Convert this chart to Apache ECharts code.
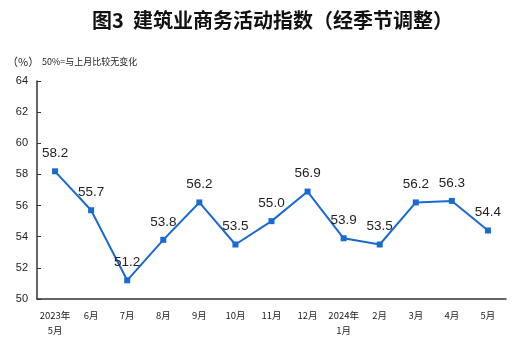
<!DOCTYPE html>
<html>
<head>
<meta charset="utf-8">
<script src="https://cdn.jsdelivr.net/npm/echarts@6/dist/echarts.min.js"></script>
<style>
html,body{margin:0;padding:0;background:#fff;}
#chart{width:516px;height:349px;}
</style>
</head>
<body>
<div id="chart"></div>
<script>
// Construction business activity index, seasonally adjusted (%)
const months = ['2023年\n5月', '6月', '7月', '8月', '9月', '10月', '11月', '12月', '2024年\n1月', '2月', '3月', '4月', '5月'];
const indexValues = [58.2, 55.7, 51.2, 53.8, 56.2, 53.5, 55.0, 56.9, 53.9, 53.5, 56.2, 56.3, 54.4];
const yTicks = [50, 52, 54, 56, 58, 60, 62, 64];

const chart = echarts.init(document.getElementById('chart'));
const cjk = '"Noto Sans CJK SC", sans-serif';
chart.setOption({
  animation: false,
  backgroundColor: '#fff',
  title: {
    text: '图3  建筑业商务活动指数（经季节调整）',
    left: 87,
    top: 5,
    textStyle: { fontFamily: cjk, fontSize: 20, fontWeight: 'bold', color: '#111' }
  },
  graphic: [
    { type: 'text', left: 7, top: 56, style: { text: '（%）', font: '11px ' + cjk, fill: '#222' } },
    { type: 'text', left: 42, top: 57, style: { text: '50%=与上月比较无变化', font: '9px ' + cjk, fill: '#222' } }
  ],
  grid: { left: 37, right: 10, top: 81, bottom: 50, containLabel: false },
  xAxis: {
    type: 'category',
    data: months,
    boundaryGap: true,
    axisLine: { lineStyle: { color: '#333', width: 1.5 } },
    axisTick: { inside: true, length: 4, lineStyle: { color: '#333' } },
    axisLabel: { fontFamily: cjk, fontSize: 9.5, color: '#222', margin: 9, lineHeight: 15, interval: 0 }
  },
  yAxis: {
    type: 'value',
    min: yTicks[0],
    max: yTicks[yTicks.length - 1],
    interval: 2,
    splitLine: { show: false },
    axisLine: { show: true, lineStyle: { color: '#333', width: 1.5 } },
    axisTick: { show: true, inside: true, length: 4, lineStyle: { color: '#333' } },
    axisLabel: { fontFamily: '"Liberation Sans", Arial, sans-serif', fontSize: 11, color: '#222', margin: 9 }
  },
  series: [{
    type: 'line',
    data: indexValues,
    symbol: 'rect',
    symbolSize: 6,
    lineStyle: { color: '#1a6ad0', width: 2 },
    itemStyle: { color: '#1a6ad0' },
    label: {
      show: true,
      position: 'top',
      distance: 8,
      fontFamily: '"Liberation Sans", Arial, sans-serif',
      fontSize: 13.5,
      color: '#222',
      formatter: p => p.value.toFixed(1)
    }
  }]
});
</script>
</body>
</html>
